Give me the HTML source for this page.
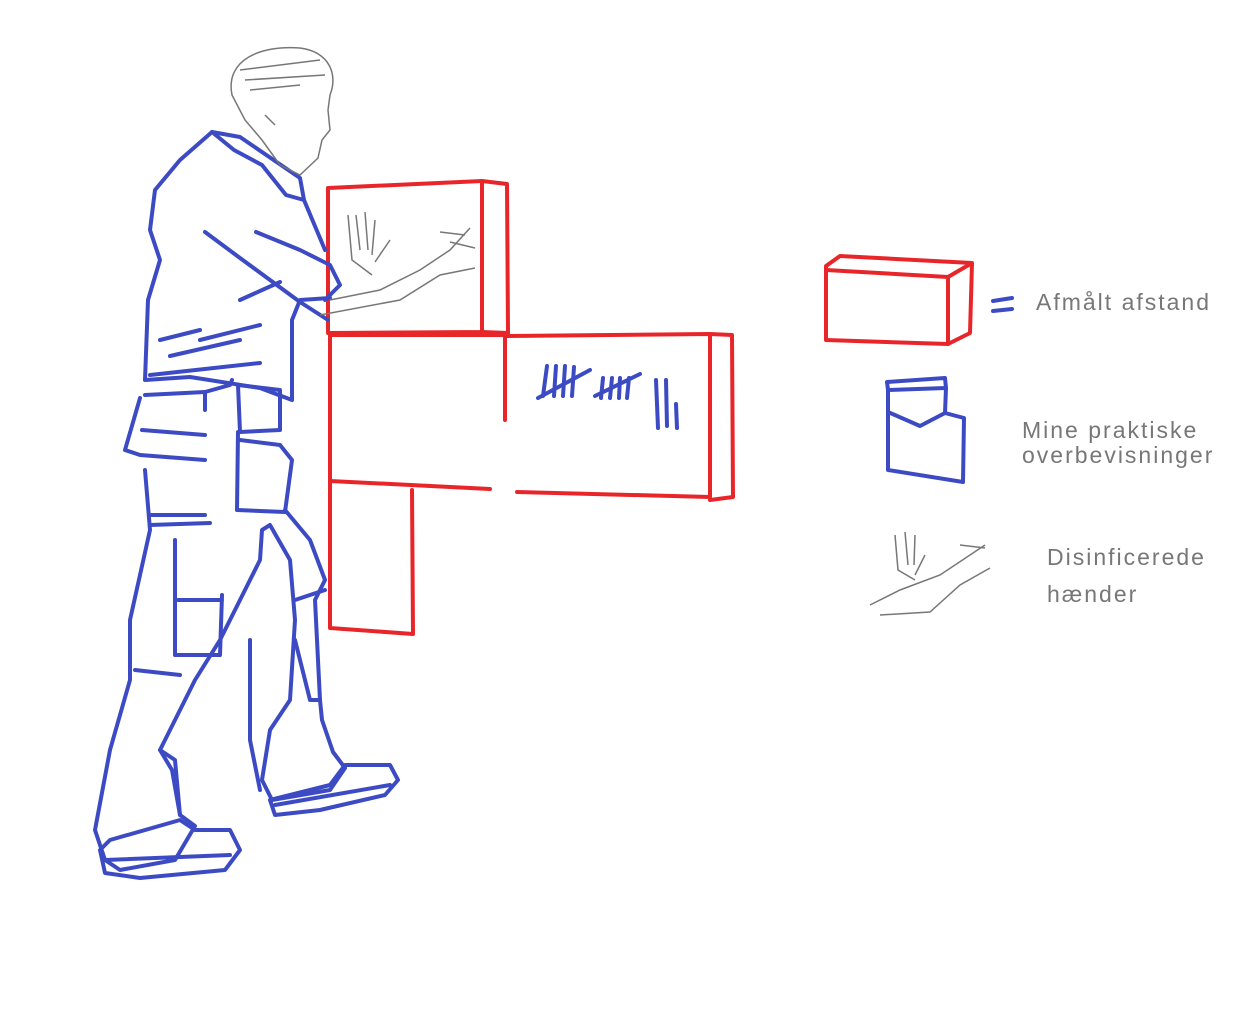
<!DOCTYPE html>
<html><head><meta charset="utf-8"><style>
html,body{margin:0;padding:0;background:#fff;width:1240px;height:1016px;overflow:hidden}
text{font-family:"Liberation Sans",sans-serif;fill:#777;font-size:23px;letter-spacing:2px}
</style></head><body>
<svg width="1240" height="1016" viewBox="0 0 1240 1016" xmlns="http://www.w3.org/2000/svg">
<g fill="none" stroke="#e8262a" stroke-width="4" stroke-linecap="round" stroke-linejoin="round">
<!-- top box -->
<path d="M328,188 L482,181 L507,184 L508,333 L482,332 L482,181 M482,332 L328,333 L328,188"/>
<!-- middle left -->
<path d="M330,335 L505,335 L505,420 M330,335 L330,628 L413,634 L412,490 M330,481 L490,489"/>
<!-- middle right box -->
<path d="M505,336 L710,334 L732,335 L733,497 L710,500 L710,334 M517,492 L710,497"/>
<!-- legend box -->
<path d="M826,266 L840,256 L972,263 L948,277 L826,270 Z M826,270 L826,340 L948,344 L948,277 M948,344 L970,333 L972,263"/>
</g>
<g fill="none" stroke="#3c4bc4" stroke-width="4" stroke-linecap="round" stroke-linejoin="round">
<!-- tallies -->
<path d="M547,366 L543,396 M556,366 L554,396 M565,366 L563,396 M574,367 L572,396 M538,398 L590,370"/>
<path d="M603,378 L601,398 M612,378 L610,398 M620,378 L619,398 M629,378 L627,398 M595,396 L640,374"/>
<path d="M656,380 L658,428 M666,380 L667,426 M676,404 L677,428"/>
<!-- legend pocket -->
<path d="M887,382 L945,378 L946,388 L888,390 Z M888,390 L888,470 L963,482 L964,418 L945,413 L946,388 M888,412 L920,426 L945,413"/>
<path d="M993,301 L1012,298 M993,311 L1012,309"/>
<!-- person -->
<path d="M212,132 L240,137 L300,178 L304,200 L286,195 L262,165 L234,150 L212,132"/>
<path d="M212,132 L180,160 L155,190 L150,230 L160,260 L148,300 L145,380 L190,377 L260,388 L292,400 L292,320 L300,300 L330,298"/>
<path d="M256,232 L300,250 L330,265 L340,285 L325,300 M304,200 L325,250"/>
<path d="M205,232 L240,258 L300,302 L328,320"/>
<path d="M160,340 L200,330 M170,356 L240,340 M150,375 L260,363 M200,340 L260,325 M240,300 L280,282"/>
<path d="M145,395 L205,392 L230,385 L232,380 M205,392 L205,410 M140,398 L125,450 L140,455 L205,460 M142,430 L205,435"/>
<path d="M238,385 L280,390 L280,430 L240,432 Z M238,432 L237,510 L285,512 L292,460 L280,445 M240,440 L280,445"/>
<path d="M145,470 L150,530 L130,620 L130,680 L110,750 L95,830 L105,860 L120,870 L175,860 L195,826 L180,815 L172,770 L160,750 L175,720 L195,680 L220,640 L245,590 L260,560 L262,530 L270,525 L290,560 L295,620 L290,700 L270,730 L262,780 L272,800 L330,790 L345,768 L333,752 L322,720 L320,700 L315,600 L325,580 L310,540 L285,510"/>
<path d="M150,515 L205,515 M150,525 L210,523 M175,540 L175,655 L220,655 L222,595 M178,600 L222,600"/>
<path d="M135,670 L180,675 M160,750 L175,760 L180,815"/>
<path d="M295,600 L325,590 M295,640 L310,700 L320,700 M250,640 L250,740 L260,790"/>
<path d="M100,850 L110,840 L180,820 L195,830 L230,830 L240,850 L225,870 L140,878 L105,873 Z M105,860 L230,855"/>
<path d="M270,800 L330,785 L345,765 L390,765 L398,780 L385,795 L320,810 L275,815 Z M275,805 L390,785"/>
</g>
<!-- head sketch -->
<g fill="none" stroke="#777" stroke-width="1.5">
<path d="M232,95 C225,60 260,45 300,48 C330,52 338,75 330,95 L328,110 L330,130 L322,140 L318,158 L300,175 L280,165 L262,140 L245,120 Z"/>
<path d="M240,70 L320,60 M245,80 L325,75 M250,90 L300,85 M265,115 L275,125"/>
<path d="M348,215 L352,260 L372,275 M356,215 L360,250 M365,212 L368,250 M375,220 L372,255 M390,240 L375,262"/>
<path d="M330,300 L380,290 L420,270 L450,250 L470,228 M320,315 L400,300 L440,275 L475,268 M440,232 L465,235 M450,242 L475,248"/>
<path d="M895,535 L898,570 L915,580 M905,532 L908,565 M915,535 L914,565 M925,555 L915,575 M870,605 L900,590 L940,575 L985,545 M880,615 L930,612 L960,585 L990,568 M960,545 L985,548"/>
</g>
<text x="1036" y="310">Afmålt afstand</text>
<text x="1022" y="438">Mine praktiske</text>
<text x="1022" y="463">overbevisninger</text>
<text x="1047" y="565">Disinficerede</text>
<text x="1047" y="602">hænder</text>
</svg>
</body></html>
